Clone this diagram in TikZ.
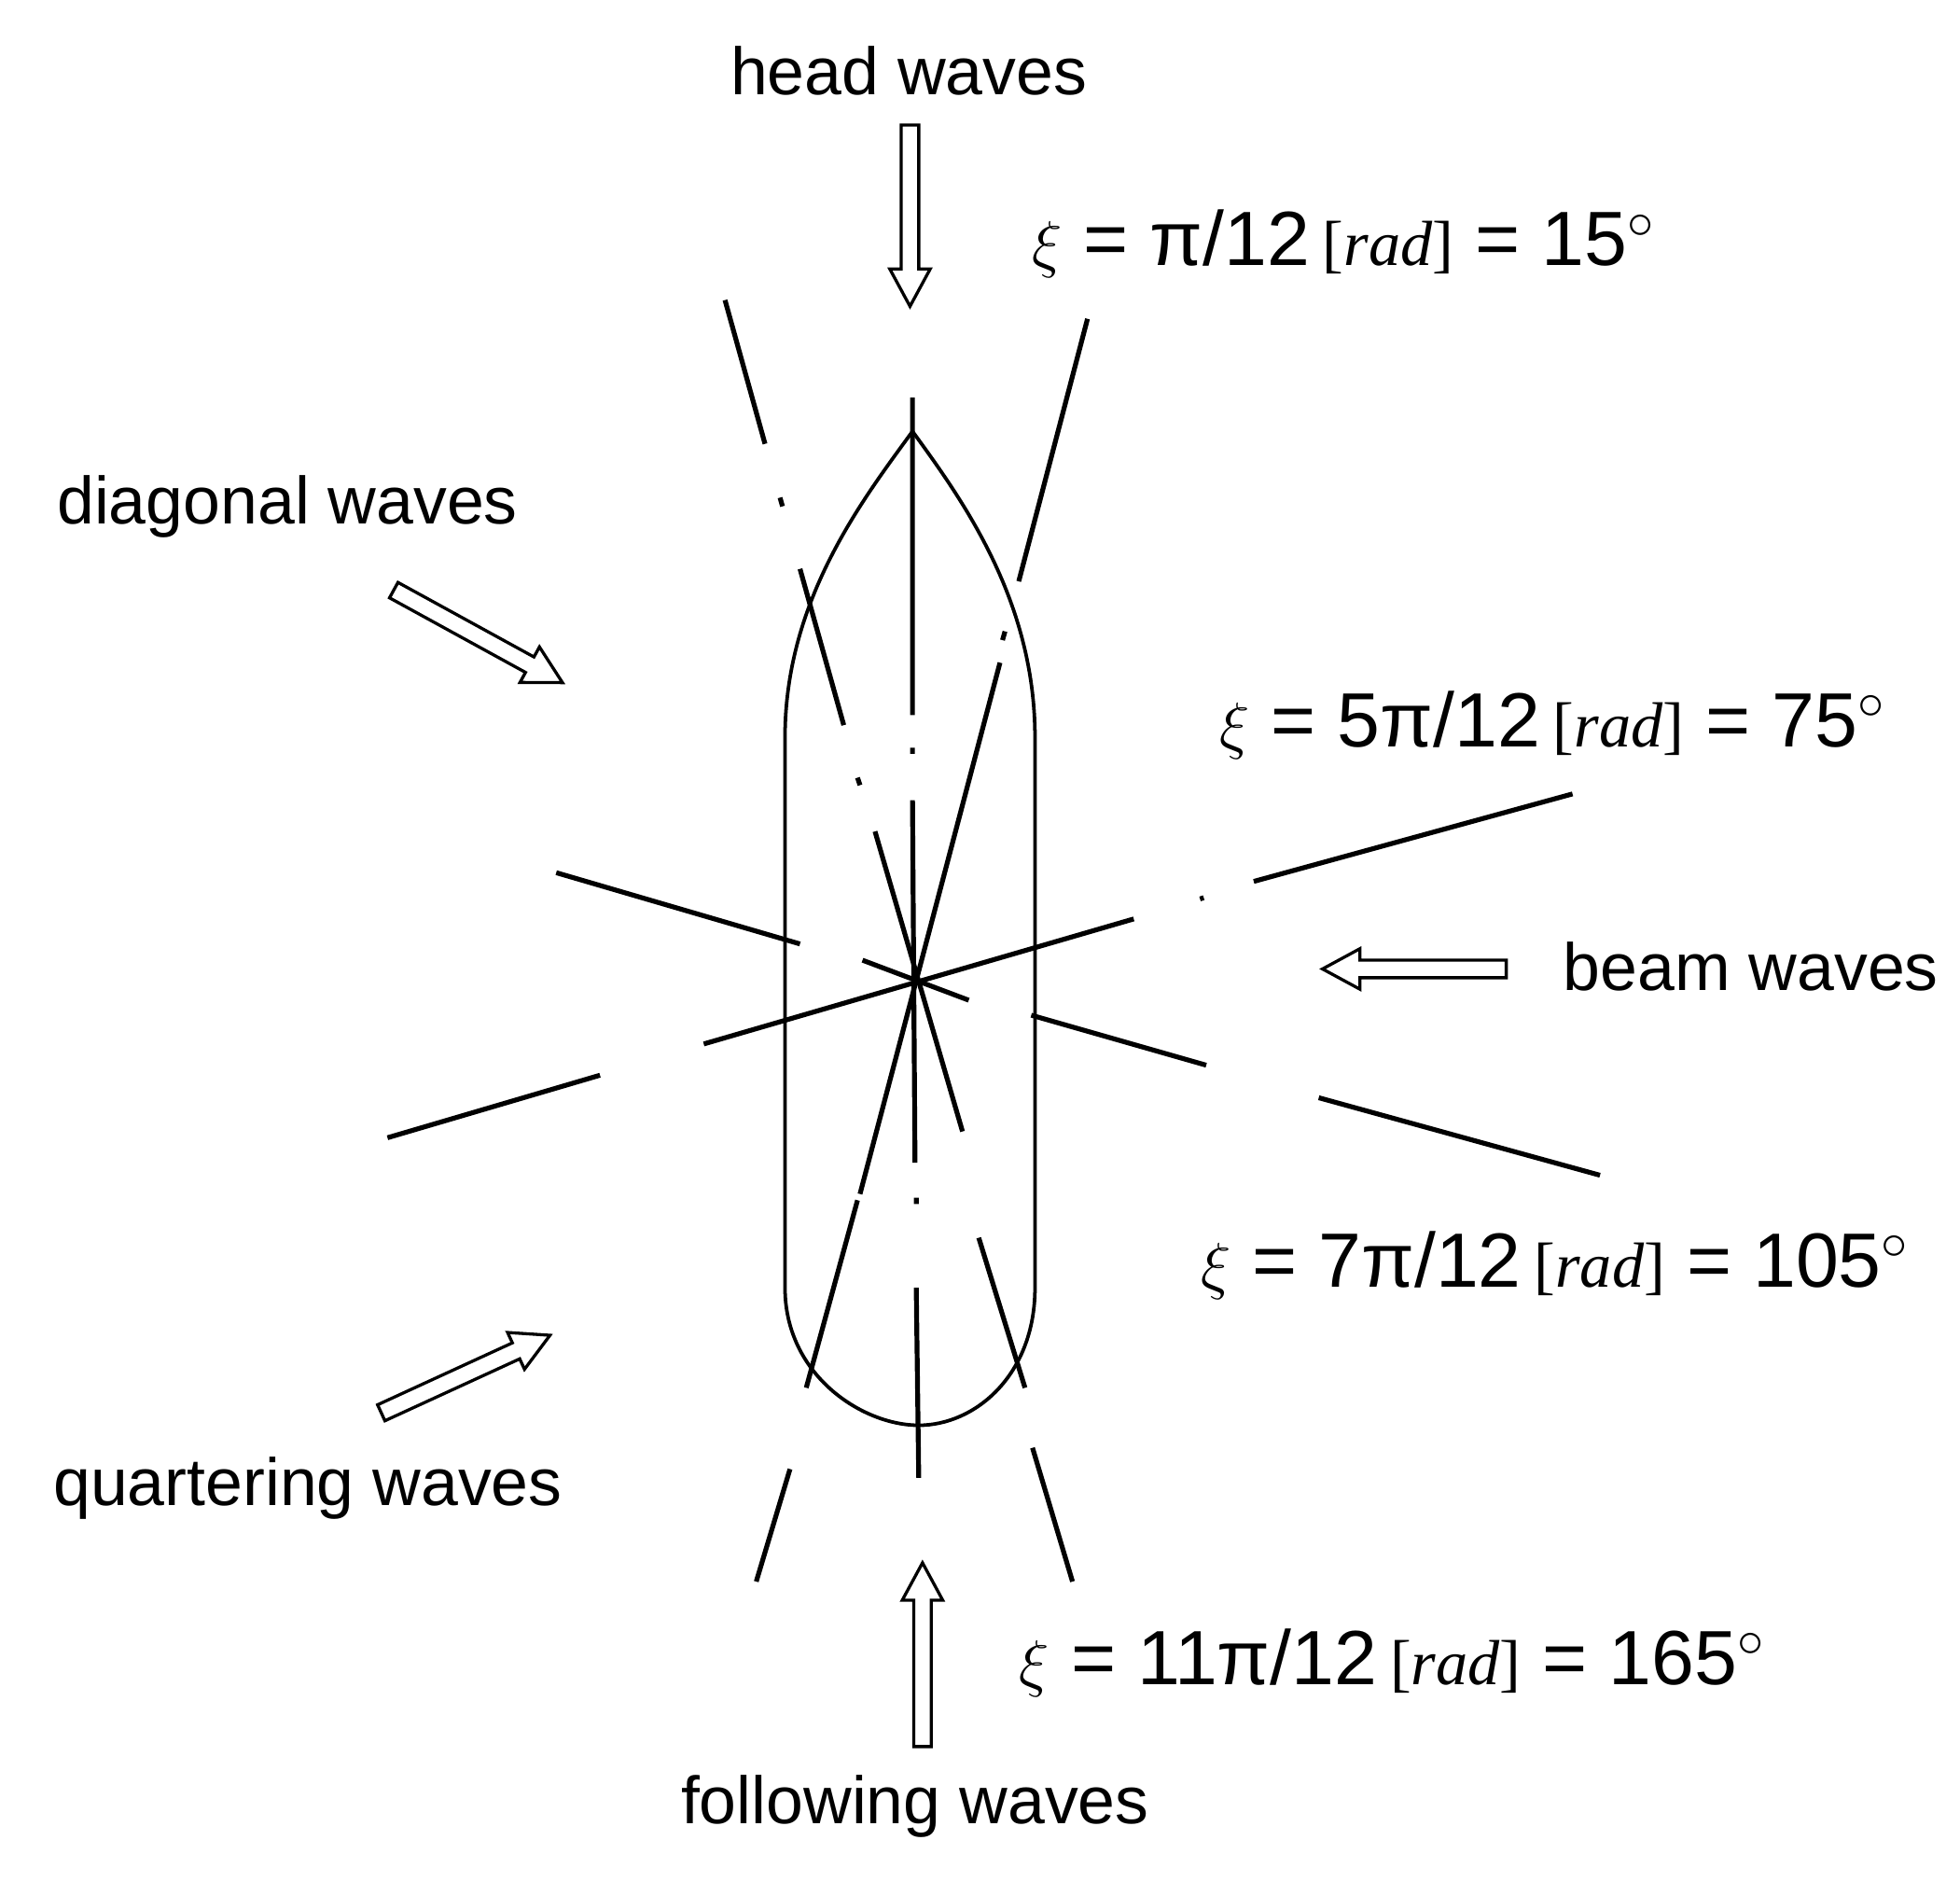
\documentclass[tikz,border=0pt]{standalone}
\usepackage{fontspec}
\setmainfont{Liberation Sans}
\newfontfamily\serifit{Liberation Serif}
\usetikzlibrary{calc}
\newcommand\hollowarr[2]{%
  \draw[arrowline] ($(#1)!2pt!-90:(#2)$) -- ($($(#2)!8.5pt!(#1)$)!2pt!-90:(#2)$)
  -- ($($(#2)!8.5pt!(#1)$)!4.6pt!-90:(#2)$) -- (#2)
  -- ($($(#2)!8.5pt!(#1)$)!4.6pt!90:(#2)$) -- ($($(#2)!8.5pt!(#1)$)!2pt!90:(#2)$)
  -- ($(#1)!2pt!90:(#2)$) -- cycle;}
\newcommand\eqlab[2]{{\Large$\xi$} = #1\,{\serifit\fontsize{14.5}{16}\selectfont[\textit{rad}]} = #2$^{\circ}$}
\begin{document}
\begin{tikzpicture}[x=0.01cm,y=-0.01cm,
  ship/.style={line width=0.8pt},
  ray/.style={line width=1.1pt},
  arrowline/.style={line width=0.7pt},
  lab/.style={font=\fontsize{15.2}{18}\selectfont, inner sep=0pt},
  eq/.style={font=\fontsize{17.5}{20}\selectfont, inner sep=0pt, anchor=west}]
\useasboundingbox (0,0) rectangle (1568,1505);
% ship
\draw[ship] (628,1030) -- (628,590) .. controls (628,480) and (690,400) .. (730,345)
  .. controls (770,400) and (828,480) .. (828,590) -- (828,1030)
  .. controls (828,1100) and (780,1140) .. (735,1140)
  .. controls (690,1140) and (628,1100) .. (628,1030);
% vertical line
\draw[ray] (730,318) -- (730,572) (730,598) -- (730,603) (730,640) -- (732,930) (733,958)--(733,963) (733,1030) -- (735,1182);
% 15 deg line (upper left to lower right)
\draw[ray] (580,240) -- (612,355) (624,398) -- (626,405) (640,455) -- (675,580) (686,622)--(688,628) (700,665) -- (770,905) (783,990) -- (820,1110) (826,1158) -- (858,1265);
% 165 deg line (upper right to lower left)
\draw[ray] (870,255) -- (815,465) (804,505)--(802,512) (800,530) -- (688,955) (686,960) -- (645,1110) (632,1175) -- (605,1265);
% 75 deg line
\draw[ray] (1258,635) -- (1003,705) (963,718)--(960,719) (907,735) -- (563,835) (480,860) -- (310,910);
% 105 deg line
\draw[ray] (445,698) -- (640,755) (690,768) -- (775,800) (825,812) -- (965,852) (1055,878) -- (1280,940);
% arrows
\coordinate (ha1) at (728,100); \coordinate (ha2) at (728,245);
\coordinate (fa1) at (738,1397); \coordinate (fa2) at (738,1250);
\coordinate (ba1) at (1205,775); \coordinate (ba2) at (1058,775);
\coordinate (da1) at (315,472); \coordinate (da2) at (450,546);
\coordinate (qa1) at (305,1130); \coordinate (qa2) at (440,1068);
\hollowarr{ha1}{ha2}
\hollowarr{fa1}{fa2}
\hollowarr{ba1}{ba2}
\hollowarr{da1}{da2}
\hollowarr{qa1}{qa2}
% labels
\node[lab] (hw) at (727,57) {head waves};
\node[lab] (fw) at (732,1445) {following waves};
\node[lab,anchor=west] (dw) at (45,405) {diagonal waves};
\node[lab,anchor=west] (bw) at (1250,773) {beam waves};
\node[lab,anchor=west] (qw) at (42,1190) {quartering waves};
\node[eq] (e1) at (825,195) {\eqlab{π/12}{15}};
\node[eq] (e2) at (975,580) {\eqlab{5π/12}{75}};
\node[eq] (e3) at (960,1012) {\eqlab{7π/12}{105}};
\node[eq] (e4) at (815,1330) {\eqlab{11π/12}{165}};
\end{tikzpicture}
\end{document}
